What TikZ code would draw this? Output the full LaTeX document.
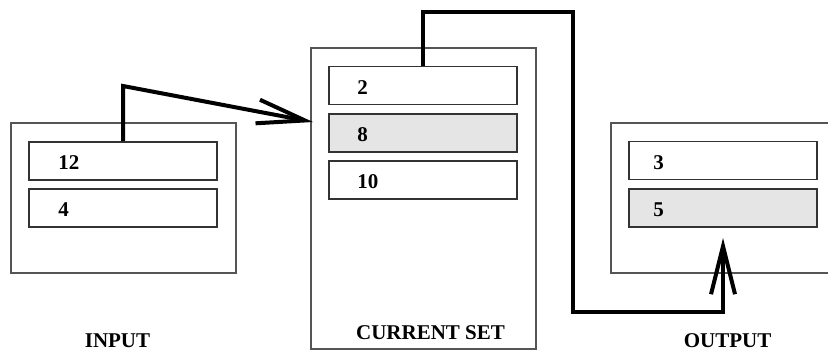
\documentclass[tikz,border=0pt]{standalone}
\usepackage{fontspec}
\setmainfont{Liberation Serif}
\usetikzlibrary{arrows.meta}
\definecolor{boxline}{HTML}{555555}
\definecolor{itemline}{HTML}{333333}
\definecolor{hilite}{HTML}{E5E5E5}
\tikzset{
  outerbox/.style={draw=boxline, line width=0.6pt, minimum width=112.5pt, inner sep=0pt},
  itembox/.style={draw=itemline, line width=0.8pt, fill=white, minimum width=94pt, minimum height=19pt, inner sep=0pt},
  hot/.style={fill=hilite},
  itemtext/.style={anchor=west, inner sep=0pt, font=\fontsize{10.5}{12}\selectfont\bfseries},
  caption/.style={inner sep=0pt, font=\fontsize{10.5}{12}\selectfont\bfseries},
  flow/.style={line width=2pt, line join=miter, -{Straight Barb[length=24pt, width=12pt, line width=2pt]}}
}
\begin{document}
\begin{tikzpicture}[x=0.5pt, y=-0.5pt]
\useasboundingbox (0,0) rectangle (828,351);
\clip (0,0) rectangle (828,351);
% outer boxes
\node[outerbox, minimum height=75pt] (in) at (123.5,198) {};
\node[outerbox, minimum height=150.5pt] (cur) at (423.5,198.5) {};
\node[outerbox, minimum height=75pt] (out) at (723.5,198) {};
% input items
\node[itembox] (i12) at (123,161) {};
\node[itembox] (i4) at (123,208) {};
\node[itemtext] (t12) at (58,163) {12};
\node[itemtext] (t4) at (58,210) {4};
% current set items
\node[itembox] (c2) at (423,85.5) {};
\node[itembox, hot] (c8) at (423,133) {};
\node[itembox] (c10) at (423,180) {};
\node[itemtext] (t2) at (357,87.5) {2};
\node[itemtext] (t8) at (357,135) {8};
\node[itemtext] (t10) at (357,182) {10};
% output items
\node[itembox] (o3) at (723,160.5) {};
\node[itembox, hot] (o5) at (723,208) {};
\node[itemtext] (t3) at (653,162.5) {3};
\node[itemtext] (t5) at (653,210) {5};
% captions
\node[caption] (lin) at (117.5,340.5) {INPUT};
\node[caption] (lcur) at (430.5,332.5) {CURRENT SET};
\node[caption] (lout) at (727.5,340.5) {OUTPUT};
% connectors
\coordinate (a1) at (123,86);
\coordinate (intip) at (313,122);
\draw[flow] (i12.north) -- (a1) -- (intip);
\coordinate (b1) at (573,12);
\coordinate (b2) at (573,312);
\coordinate (outtip) at (723,238);
\draw[flow] (c2.north) |- (b1) -- (b2) -| (outtip);
\end{tikzpicture}
\end{document}
